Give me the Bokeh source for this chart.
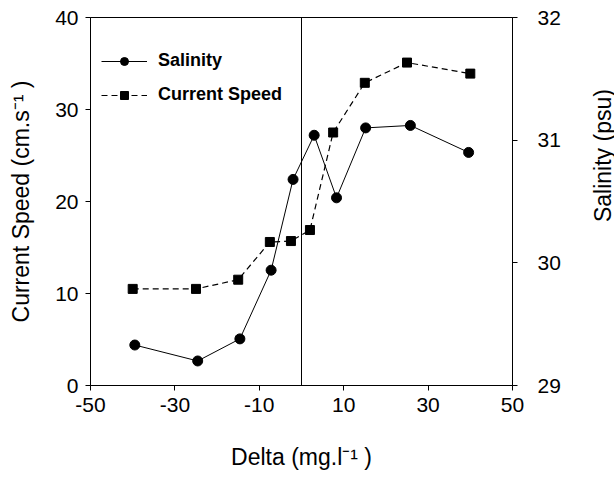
import math
from bokeh.plotting import figure
from bokeh.layouts import row
from bokeh.models import Range1d, LinearAxis, FixedTicker, Span, Legend, LegendItem, Label
from bokeh.embed import file_html
from bokeh.resources import INLINE

# Data
cs_delta = [-40, -25, -15, -7.5, -2.5, 2, 7.5, 15, 25, 40]
current_speed = [10.5, 10.5, 11.5, 15.6, 15.7, 16.9, 27.5, 32.9, 35.1, 33.9]

sal_delta = [-39.5, -24.6, -14.6, -7.2, -2, 3, 8.3, 15.2, 25.8, 39.6]
salinity = [29.33, 29.20, 29.38, 29.94, 30.68, 31.04, 30.53, 31.10, 31.12, 30.90]

x_ticks = [-50, -30, -10, 10, 30, 50]
y_ticks = [0, 10, 20, 30, 40]
sal_ticks = [29, 30, 31, 32]

FONT = "Liberation Sans"

p = figure(width=584, height=477, output_backend="svg", toolbar_location=None,
           x_range=Range1d(-50, 50), y_range=Range1d(0, 40),
           min_border_left=90, min_border_right=72, min_border_top=17, min_border_bottom=92)
p.extra_y_ranges = {"sal": Range1d(29, 32)}

p.xgrid.visible = False
p.ygrid.visible = False
p.outline_line_color = "black"
p.outline_line_width = 1
p.background_fill_color = "white"
p.border_fill_color = "white"

def style_axis(ax, ticks):
    ax.ticker = FixedTicker(ticks=ticks)
    ax.major_label_overrides = {t: str(t) for t in ticks}
    ax.minor_tick_line_color = None
    ax.major_tick_out = 5
    ax.major_tick_in = 0
    ax.axis_line_color = "black"
    ax.major_tick_line_color = "black"
    ax.major_label_text_font = FONT
    ax.major_label_text_font_size = "21px"
    ax.major_label_text_color = "black"
    ax.axis_label_text_font = FONT
    ax.axis_label_text_font_size = "23px"
    ax.axis_label_text_font_style = "normal"
    ax.axis_label_text_color = "black"

xa = p.xaxis[0]
style_axis(xa, x_ticks)
xa.axis_label = "Delta (mg.l\u207b\u00b9 )"
xa.major_label_standoff = 7
xa.axis_label_standoff = 29

ya = p.yaxis[0]
style_axis(ya, y_ticks)
ya.axis_label = "Current Speed (cm.s\u207b\u00b9 )"
ya.major_label_standoff = 7
ya.axis_label_standoff = 18

ra = LinearAxis(y_range_name="sal")
style_axis(ra, sal_ticks)
ra.major_label_standoff = 20
p.add_layout(ra, "right")

p.add_layout(Span(location=0, dimension="height", line_color="black", line_width=1))

# Salinity
sl = p.line(sal_delta, salinity, y_range_name="sal", line_color="black", line_width=1)
ss = p.scatter(sal_delta, salinity, y_range_name="sal", marker="circle", size=10,
               fill_color="black", line_color="black")
# Current speed
cl = p.line(cs_delta, current_speed, line_color="black", line_width=1.2, line_dash="6 4")
cs = p.scatter(cs_delta, current_speed, marker="square", size=9,
               fill_color="black", line_color="black")

legend = Legend(items=[LegendItem(label="Salinity", renderers=[sl, ss]),
                       LegendItem(label="Current Speed", renderers=[cl, cs])],
                location=(11, 280), orientation="vertical",
                glyph_width=46, glyph_height=20, spacing=13, padding=0, margin=0,
                label_standoff=11, label_text_font=FONT, label_text_font_style="bold",
                label_text_font_size="18px", label_height=20, label_text_color="black",
                border_line_color=None, background_fill_alpha=0)
p.add_layout(legend, "center")

# Strip holding the right-axis title (reads bottom-to-top)
t = figure(width=30, height=477, output_backend="svg", toolbar_location=None,
           x_range=Range1d(0, 30), y_range=Range1d(0, 477),
           min_border=0, outline_line_color=None)
t.axis.visible = False
t.grid.visible = False
t.add_layout(Label(x=18, y=298, text="Salinity (psu)", angle=math.pi / 2,
                   text_align="center", text_baseline="middle",
                   text_font=FONT, text_font_size="23px", text_color="black"))

layout = row(p, t, spacing=0)
open("out.html", "w").write(file_html(layout, INLINE))
